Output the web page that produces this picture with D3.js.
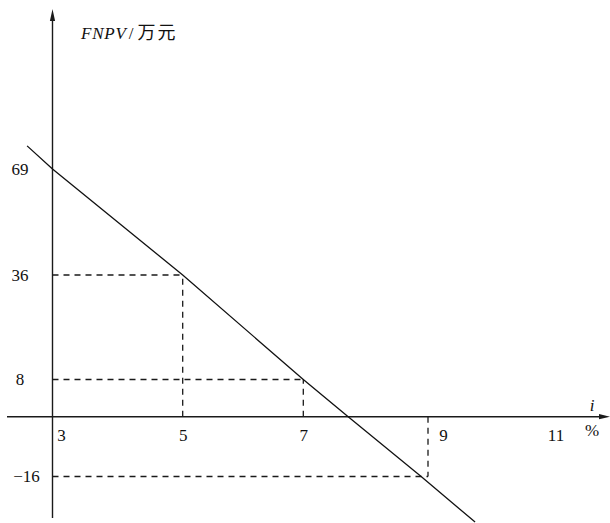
<!DOCTYPE html>
<html>
<head>
<meta charset="utf-8">
<script src="https://cdn.jsdelivr.net/npm/d3@7"></script>
<style>
  body { margin: 0; background: #fff; }
</style>
</head>
<body>
<svg width="610" height="523"></svg>
<script>
// tick labels on the two axes
const iTicks = [3, 5, 7, 9, 11];
const npvTicks = [69, 36, 8, -16];
// the FNPV line (i in %, FNPV in 万元)
const lineI = [2.61, 3, 5, 7, 7.72, 8.89, 9.73];
const lineNpv = [76.2, 69, 36, 8, 0, -16, -28.2];
// points that get dashed guides to the axes
const guideI = [5, 7, 9];
const guideNpv = [36, 8, -16];

const serif = '"Liberation Serif", "Times New Roman", serif';
const svg = d3.select('svg');
const width = +svg.attr('width');
const height = +svg.attr('height');

// the sketch is not drawn to scale, so both scales are piecewise linear
const xScale = d3.scaleLinear()
  .domain(iTicks)
  .range([52.5, 182.7, 303.3, 428, 557]);
const yScale = d3.scaleLinear()
  .domain([-16, 0, 8, 36, 69])
  .range([476.5, 416.7, 379.5, 275, 169]);

const x0 = xScale(iTicks[0]);
const y0 = yScale(0);

// axes with arrow heads
const axes = svg.append('g')
  .attr('stroke', '#1a1a1a')
  .attr('stroke-width', 1.4);
axes.append('line')
  .attr('x1', 7).attr('x2', width - 6)
  .attr('y1', y0).attr('y2', y0);
axes.append('line')
  .attr('x1', x0).attr('x2', x0)
  .attr('y1', height - 5).attr('y2', 16);
svg.append('path')
  .attr('d', `M${width},${y0} L${width - 11},${y0 - 2.6} L${width - 11},${y0 + 2.6} Z`)
  .attr('fill', '#1a1a1a');
svg.append('path')
  .attr('d', `M${x0},9 L${x0 - 2.6},21 L${x0 + 2.6},21 Z`)
  .attr('fill', '#1a1a1a');

// dashed guides from each point back to the axes
const guides = svg.append('g')
  .attr('stroke', '#1a1a1a')
  .attr('stroke-width', 1.3)
  .attr('stroke-dasharray', '6,5')
  .attr('fill', 'none');
guideI.forEach((gi, k) => {
  guides.append('line')
    .attr('x1', x0).attr('x2', xScale(gi))
    .attr('y1', yScale(guideNpv[k])).attr('y2', yScale(guideNpv[k]));
  guides.append('line')
    .attr('x1', xScale(gi)).attr('x2', xScale(gi))
    .attr('y1', y0).attr('y2', yScale(guideNpv[k]));
});

// the FNPV line
const points = lineI.map((v, k) => ({i: v, npv: lineNpv[k]}));
svg.append('path')
  .datum(points)
  .attr('fill', 'none')
  .attr('stroke', '#111')
  .attr('stroke-width', 1.3)
  .attr('d', d3.line().x(d => xScale(d.i)).y(d => yScale(d.npv)));

// x tick labels (3 and 9 sit right of their guide so the lines stay clear)
const xShift = {3: 8.5, 9: 15, 11: -1.5};
const xAxis = svg.append('g')
  .attr('transform', `translate(0, ${y0})`)
  .call(d3.axisBottom(xScale).tickValues(iTicks).tickSize(0).tickPadding(12));
xAxis.select('.domain').remove();
xAxis.attr('font-family', serif).attr('font-size', 17);
xAxis.selectAll('text')
  .attr('fill', '#111')
  .attr('dx', d => xShift[d] || 0);

// y tick labels, centred in the left margin
const yAxis = svg.append('g')
  .attr('transform', `translate(${x0}, 0)`)
  .call(d3.axisLeft(yScale).tickValues(npvTicks).tickSize(0));
yAxis.select('.domain').remove();
yAxis.attr('font-family', serif).attr('font-size', 17);
yAxis.selectAll('text')
  .attr('fill', '#111')
  .attr('text-anchor', 'middle')
  .attr('x', d => d < 0 ? -26 : -32.5);

// axis titles
const title = svg.append('text')
  .attr('x', 81).attr('y', 39)
  .attr('font-family', serif).attr('font-size', 17).attr('fill', '#111');
title.append('tspan').attr('font-style', 'italic').attr('letter-spacing', 0.8).text('FNPV');
title.append('tspan').attr('dx', 2).text('/');
title.append('tspan')
  .attr('font-family', '"Noto Sans CJK SC", sans-serif')
  .attr('font-size', 18)
  .attr('letter-spacing', 2)
  .attr('dx', 4)
  .text('万元');

svg.append('text')
  .attr('x', 592).attr('y', 411)
  .attr('font-family', serif).attr('font-size', 17).attr('fill', '#111')
  .attr('font-style', 'italic')
  .attr('text-anchor', 'middle')
  .text('i');
svg.append('text')
  .attr('x', 592).attr('y', 436)
  .attr('font-family', serif).attr('font-size', 17).attr('fill', '#111')
  .attr('text-anchor', 'middle')
  .text('%');
</script>
</body>
</html>
